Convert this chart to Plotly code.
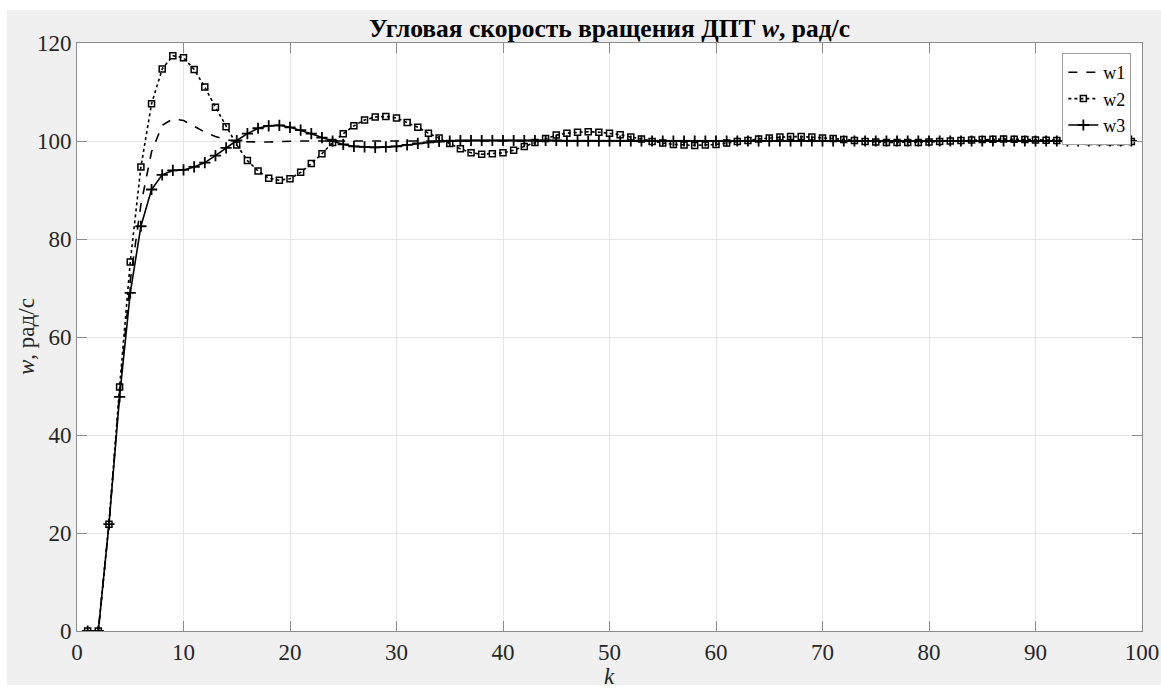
import plotly.graph_objects as go

k = list(range(1, 100))

w1 = [0, 0, 21.8, 48.8, 71.5, 87.0, 97.8, 103.2, 104.5, 104.2,
      103.0, 101.8, 100.9, 100.3, 99.9, 99.8, 99.8, 99.8, 99.9, 100.0] + [100.0] * 79

w2 = [0, 0, 21.8, 49.8, 75.3, 94.7, 107.6, 114.7, 117.4, 117.0,
      114.6, 111.0, 106.9, 102.9, 99.2, 96.0, 93.9, 92.4, 92.0, 92.3,
      93.6, 95.4, 97.4, 99.7, 101.5, 103.1, 104.3, 104.9, 105.0, 104.7,
      103.8, 102.8, 101.6, 100.6, 99.5, 98.4, 97.6, 97.3, 97.4, 97.6,
      98.1, 98.9, 99.7, 100.5, 101.2, 101.6, 101.8, 101.9, 101.8, 101.6,
      101.3, 100.8, 100.4, 99.9, 99.6, 99.3, 99.2, 99.1, 99.2, 99.3,
      99.6, 99.9, 100.1, 100.4, 100.6, 100.8, 100.9, 100.9, 100.8, 100.6,
      100.5, 100.3, 100.1, 99.9, 99.8, 99.7, 99.7, 99.7, 99.7, 99.8,
      99.9, 100.0, 100.1, 100.2, 100.3, 100.35, 100.4, 100.35, 100.3, 100.2,
      100.15, 100.1, 100.0, 99.95, 99.9, 99.9, 99.85, 99.85, 99.9]

w3 = [0, 0, 21.8, 47.8, 69.0, 82.6, 90.1, 93.1, 94.0, 94.1,
      94.7, 95.6, 97.0, 98.6, 100.1, 101.5, 102.6, 103.1, 103.2, 102.8,
      102.2, 101.5, 100.7, 100.0, 99.3, 98.9, 98.8, 98.7, 98.8, 98.9,
      99.2, 99.5, 99.7, 99.9, 100.0, 100.1, 100.1, 100.1, 100.1, 100.1,
      100.1, 100.1, 100.1, 100.1, 100.1] + [100.0] * 54

x_ticks = [0, 10, 20, 30, 40, 50, 60, 70, 80, 90, 100]
y_ticks = [0, 20, 40, 60, 80, 100, 120]

title_text = "<b>Угловая скорость вращения ДПТ <i>w</i>, рад/с</b>"
xlabel = "<i>k</i>"
ylabel = "<i>w</i>, рад/с"

FONT = "Liberation Serif"

W, H = 1161, 688
ML, MT, MR, MB = 77, 43, 19, 57
PW = W - ML - MR
PH = H - MT - MB

fig = go.Figure()
fig.add_trace(go.Scatter(x=k, y=w1, name="w1", mode="lines",
                         line=dict(color="black", dash="dash", width=1.6)))
fig.add_trace(go.Scatter(x=k, y=w2, name="w2", mode="lines+markers",
                         line=dict(color="black", dash="dot", width=1.6),
                         marker=dict(symbol="square-open", size=6, color="black",
                                     line=dict(width=1.5, color="black"))))
fig.add_trace(go.Scatter(x=k, y=w3, name="w3", mode="lines+markers",
                         line=dict(color="black", width=1.6),
                         marker=dict(symbol="cross-thin", size=8, color="black",
                                     line=dict(width=1.8, color="black"))))

axis_common = dict(
    showgrid=True, gridcolor="#e6e6e6", gridwidth=1,
    showline=True, linecolor="#8c8c8c", linewidth=1, mirror="ticks",
    ticks="inside", ticklen=10, tickcolor="#8c8c8c", tickwidth=1,
    zeroline=False, ticklabeloverflow="allow", automargin=False,
    tickfont=dict(family=FONT, size=23, color="#262626"),
)

fig.update_layout(
    width=W, height=H,
    margin=dict(l=ML, r=MR, t=MT, b=MB, autoexpand=False),
    paper_bgcolor="#f0f0f0", plot_bgcolor="white",
    title=dict(text=title_text, x=(ML + PW / 2) / W, xanchor="center",
               y=1 - 28 / H, yanchor="middle",
               font=dict(family=FONT, size=25.5, color="black")),
    xaxis=dict(range=[0, 100], tickvals=x_ticks, **axis_common),
    yaxis=dict(range=[0, 120], tickvals=y_ticks, **axis_common),
    showlegend=True,
    legend=dict(x=0.99, y=0.983, xanchor="right", yanchor="top",
                bgcolor="white", bordercolor="#a0a0a0", borderwidth=1,
                font=dict(family=FONT, size=18, color="black"),
                tracegroupgap=0, itemwidth=30),
    annotations=[
        dict(text=xlabel, x=0.5, xref="paper", y=-(676 - 631) / PH, yref="paper",
             yanchor="middle", xanchor="center", showarrow=False,
             font=dict(family=FONT, size=23, color="#262626")),
        dict(text=ylabel, x=-(ML - 26) / PW, xref="paper", y=0.5, yref="paper",
             xanchor="center", yanchor="middle", showarrow=False, textangle=-90,
             font=dict(family=FONT, size=23, color="#262626")),
    ],
    shapes=[
        dict(type="rect", xref="paper", yref="paper", layer="below",
             x0=-0.2, x1=-(ML - 7) / PW, y0=-0.2, y1=1.2,
             fillcolor="white", line=dict(width=0)),
        dict(type="rect", xref="paper", yref="paper", layer="below",
             x0=-0.2, x1=1.2, y0=(631 - 10) / PH, y1=1.2,
             fillcolor="white", line=dict(width=0)),
        dict(type="rect", xref="paper", yref="paper", layer="below",
             x0=-0.2, x1=1.2, y0=-0.2, y1=-(685 - 631) / PH,
             fillcolor="white", line=dict(width=0)),
    ],
)

fig.write_html(
    "out.html",
    config={"displayModeBar": False},
    post_script="document.body.style.margin='0';"
                "document.documentElement.style.overflow='hidden';",
)
